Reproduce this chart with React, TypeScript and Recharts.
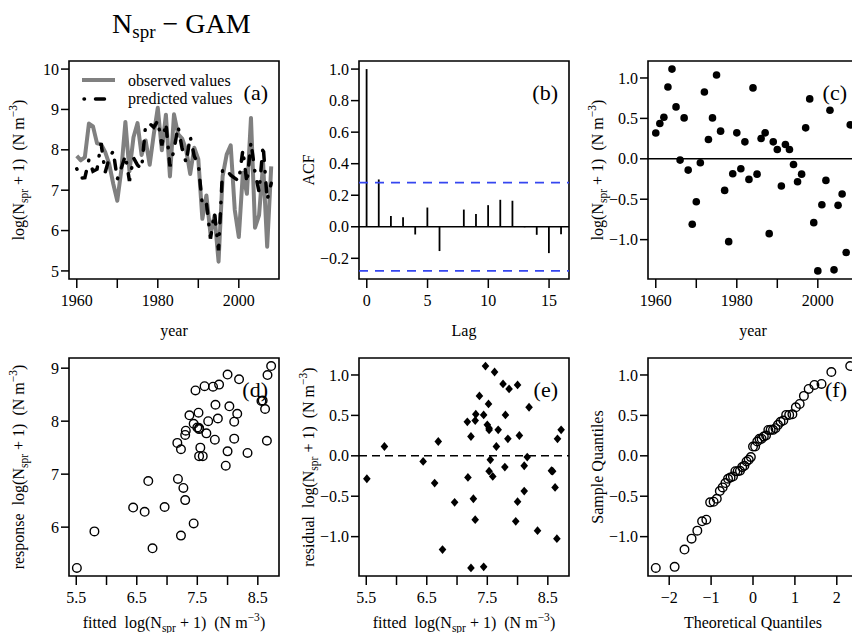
import React from 'react'
import { ComposedChart, Line, Scatter, Bar, XAxis, YAxis, ReferenceLine, ReferenceArea } from 'recharts'

// ─── Data ────────────────────────────────────────────────────────────

const years = [
    1960, 1961, 1962, 1963, 1964, 1965, 1966, 1967, 1968, 1969,
    1970, 1971, 1972, 1973, 1974, 1975, 1976, 1977, 1978, 1979,
    1980, 1981, 1982, 1983, 1984, 1985, 1986, 1987, 1988, 1989,
    1990, 1991, 1992, 1993, 1994, 1995, 1996, 1997, 1998, 1999,
    2000, 2001, 2002, 2003, 2004, 2005, 2006, 2007, 2008,
]

// log(N_spr + 1), observed
const observed = [
    7.85, 7.74, 7.82, 8.65, 8.58, 8.16, 8.14, 7.95, 7.65, 7.16,
    6.74, 7.50, 8.69, 7.47, 8.31, 8.66, 7.87, 8.23, 7.63, 8.38,
    9.04, 7.99, 8.87, 7.34, 8.88, 8.39, 8.28, 8.00, 7.40, 8.05,
    7.77, 6.29, 6.87, 5.92, 6.37, 5.23, 7.34, 7.88, 8.11, 6.51,
    5.84, 7.43, 6.91, 8.79, 6.07, 6.38, 7.67, 5.60, 7.59,
]

// GAM fitted / predicted
const predicted = [
    7.53, 7.30, 7.31, 7.76, 7.47, 7.52, 8.16, 7.44, 7.79, 7.97,
    7.27, 7.55, 7.86, 7.23, 7.80, 7.62, 7.53, 8.62, 8.65, 8.56,
    8.72, 8.11, 8.66, 7.59, 8.00, 8.58, 8.03, 7.68, 8.33, 7.84,
    7.65, 6.63, 6.69, 5.80, 6.44, 5.51, 7.53, 7.50, 7.37, 7.30,
    7.23, 8.00, 7.18, 8.19, 7.44, 6.96, 8.11, 6.76, 7.17,
]

const residuals = [
    0.32, 0.436, 0.514, 0.889, 1.11, 0.642, -0.016, 0.506, -0.14, -0.81,
    -0.531, -0.049, 0.827, 0.239, 0.506, 1.037, 0.342, -0.391, -1.025, -0.185,
    0.321, -0.123, 0.21, -0.255, 0.877, -0.19, 0.251, 0.321, -0.926, 0.21,
    0.115, -0.337, 0.177, 0.115, -0.07, -0.284, -0.19, 0.383, 0.741, -0.79,
    -1.387, -0.568, -0.267, 0.601, -1.374, -0.576, -0.436, -1.16, 0.42,
]

const acfLags = [0, 1, 2, 3, 4, 5, 6, 7, 8, 9, 10, 11, 12, 13, 14, 15, 16]
const acfValues = [1.0, 0.3, 0.068, 0.06, -0.049, 0.122, -0.154, 0.003, 0.109, 0.081, 0.137, 0.171, 0.165, -0.003, -0.051, -0.167, -0.047]
const acfLimit = 0.28

const theoQuantiles = [
    -2.32, -1.87, -1.635, -1.466, -1.329, -1.215, -1.114, -1.023, -0.94, -0.864,
    -0.792, -0.724, -0.658, -0.596, -0.536, -0.478, -0.421, -0.366, -0.311, -0.258,
    -0.205, -0.154, -0.102, -0.051, 0,
    0.051, 0.102, 0.154, 0.205, 0.258, 0.311, 0.366, 0.421, 0.478, 0.536,
    0.596, 0.658, 0.724, 0.792, 0.864, 0.94, 1.023, 1.114, 1.215, 1.329,
    1.466, 1.635, 1.87, 2.32,
]
const sampleQuantiles = [
    -1.387, -1.374, -1.16, -1.025, -0.926, -0.81, -0.79, -0.576, -0.568, -0.531,
    -0.436, -0.391, -0.337, -0.284, -0.267, -0.255, -0.19, -0.19, -0.185, -0.14,
    -0.123, -0.07, -0.049, -0.016, 0.115, 0.115, 0.177, 0.21, 0.21, 0.239,
    0.251, 0.32, 0.321, 0.321, 0.342, 0.383, 0.42, 0.436, 0.506, 0.506,
    0.514, 0.601, 0.642, 0.741, 0.827, 0.877, 0.889, 1.037, 1.11,
]

// ─── Ticks ───────────────────────────────────────────────────────────

const yearTicks = [1960, 1970, 1980, 1990, 2000]
const yearLabels = ['1960', '', '1980', '', '2000']
const logTicks = [5, 6, 7, 8, 9, 10]
const logLabels = ['5', '6', '7', '8', '9', '10']
const lagTicks = [0, 5, 10, 15]
const lagLabels = ['0', '5', '10', '15']
const acfTicks = [-0.2, 0, 0.2, 0.4, 0.6, 0.8, 1.0]
const acfLabels = ['\u22120.2', '0.0', '0.2', '0.4', '0.6', '0.8', '1.0']
const residTicks = [-1, -0.5, 0, 0.5, 1]
const residLabels = ['\u22121.0', '\u22120.5', '0.0', '0.5', '1.0']
const fittedTicks = [5.5, 6, 6.5, 7, 7.5, 8, 8.5]
const fittedLabels = ['5.5', '', '6.5', '', '7.5', '', '8.5']
const responseTicks = [6, 7, 8, 9]
const responseLabels = ['6', '7', '8', '9']
const theoTicks = [-2, -1, 0, 1, 2]
const theoLabels = ['\u22122', '\u22121', '0', '1', '2']

// ─── Layout ──────────────────────────────────────────────────────────

const FONT = "'Liberation Serif', 'DejaVu Serif', serif"
const PLOT_W = 210
const PLOT_H = 218
const PAD_L = 60
const PAD_T = 10
const PAD_R = 10
const PAD_B = 40
const COLS = [69, 359, 648]
const ROWS = [61, 358]
const GREY = '#808080'
const BLUE = '#3546f0'

const yearDomain: [number, number] = [1958.08, 2009.92]
const logDomain: [number, number] = [4.8, 10.2]
const acfDomainX: [number, number] = [-0.64, 16.64]
const acfDomainY: [number, number] = [-0.3312, 1.0512]
const residDomain: [number, number] = [-1.487, 1.21]
const fittedDomain: [number, number] = [5.38, 8.85]
const responseDomain: [number, number] = [5.078, 9.192]
const theoDomain: [number, number] = [-2.506, 2.506]

const fmt = (ticks: number[], labels: string[]) => (v: number) => {
    const i = ticks.findIndex((t) => Math.abs(t - v) < 1e-9)
    return i >= 0 ? labels[i] : ''
}

const tickStyle = { fill: '#000', fontSize: 16, fontFamily: FONT }
const tickLineStyle = { stroke: '#000', strokeWidth: 1.5 }

function xAxis(domain: [number, number], ticks: number[], labels: string[], dataKey?: string) {
    return (
        <XAxis
            dataKey={dataKey}
            type="number"
            domain={domain}
            allowDataOverflow
            ticks={ticks}
            interval={0}
            tickFormatter={fmt(ticks, labels)}
            axisLine={false}
            tickLine={tickLineStyle}
            tickSize={9}
            tickMargin={6.5}
            tick={tickStyle}
            height={PAD_B}
        />
    )
}

function yAxis(domain: [number, number], ticks: number[], labels: string[], dataKey?: string) {
    return (
        <YAxis
            dataKey={dataKey}
            type="number"
            domain={domain}
            allowDataOverflow
            ticks={ticks}
            interval={0}
            tickFormatter={fmt(ticks, labels)}
            axisLine={false}
            tickLine={tickLineStyle}
            tickSize={8}
            tickMargin={2}
            tick={tickStyle}
            width={PAD_L}
        />
    )
}

function box(xd: [number, number], yd: [number, number]) {
    return <ReferenceArea x1={xd[0]} x2={xd[1]} y1={yd[0]} y2={yd[1]} fill="none" stroke="#000" strokeWidth={1.6} ifOverflow="visible" />
}

const panelStyle = (col: number, row: number): React.CSSProperties => ({
    position: 'absolute',
    left: COLS[col] - PAD_L,
    top: ROWS[row] - PAD_T,
})
const chartProps = {
    width: PAD_L + PLOT_W + PAD_R,
    height: PAD_T + PLOT_H + PAD_B,
    margin: { top: PAD_T, right: PAD_R, bottom: 0, left: 0 },
    style: { fontFamily: FONT },
}

// ─── Marks ───────────────────────────────────────────────────────────

const OpenCircle = (p: any) => <circle cx={p.cx} cy={p.cy} r={4.3} fill="none" stroke="#000" strokeWidth={1.4} />
const FilledCircle = (p: any) => <circle cx={p.cx} cy={p.cy} r={3.8} fill="#000" />
const Diamond = (p: any) => (
    <polygon points={`${p.cx},${p.cy - 4.4} ${p.cx + 3.8},${p.cy} ${p.cx},${p.cy + 4.4} ${p.cx - 3.8},${p.cy}`} fill="#000" />
)

// ─── Labels ──────────────────────────────────────────────────────────

function LogText({ prefix = '' }: { prefix?: string }) {
    return (
        <>
            {prefix}log(N
            <tspan dy={4} fontSize={11.5}>spr</tspan>
            <tspan dy={-4}>{' + 1)  (N m'}</tspan>
            <tspan dy={-7} fontSize={11.5}>{'\u22123'}</tspan>
            <tspan dy={7}>)</tspan>
        </>
    )
}

function YLabel({ x, y, children }: { x: number; y: number; children: React.ReactNode }) {
    return (
        <text transform={`translate(${x},${y}) rotate(-90)`} textAnchor="middle" fontSize={16} style={{ whiteSpace: 'pre' }}>
            {children}
        </text>
    )
}

function XLabel({ x, y, children }: { x: number; y: number; children: React.ReactNode }) {
    return (
        <text x={x} y={y} textAnchor="middle" fontSize={16} style={{ whiteSpace: 'pre' }}>
            {children}
        </text>
    )
}

function Overlay() {
    const cx = COLS.map((c) => c + PLOT_W / 2)
    const cy = ROWS.map((r) => r + PLOT_H / 2)
    const letter = (col: number, row: number, s: string) => (
        <text x={COLS[col] + PLOT_W - 11} y={ROWS[row] + 39} textAnchor="end" fontSize={22}>{s}</text>
    )
    return (
        <svg width={852} height={633} style={{ position: 'absolute', left: 0, top: 0, pointerEvents: 'none', fontFamily: FONT }}>
            <text x={112} y={33} fontSize={28}>
                N<tspan dy={5} fontSize={19}>spr</tspan><tspan dy={-5}>{' \u2212 GAM'}</tspan>
            </text>

            {/* legend (a) */}
            <line x1={82} x2={115} y1={80} y2={80} stroke={GREY} strokeWidth={4} />
            <text x={128} y={86} fontSize={16}>observed values</text>
            <line x1={84} x2={106} y1={99} y2={99} stroke="#000" strokeWidth={3.5} strokeLinecap="round" strokeDasharray="0.5 11 9 30" />
            <text x={128} y={104} fontSize={16}>predicted values</text>

            {letter(0, 0, '(a)')}
            {letter(1, 0, '(b)')}
            {letter(2, 0, '(c)')}
            {letter(0, 1, '(d)')}
            {letter(1, 1, '(e)')}
            {letter(2, 1, '(f)')}

            <YLabel x={COLS[0] - 45} y={cy[0]}><LogText /></YLabel>
            <YLabel x={COLS[1] - 45} y={cy[0]}>ACF</YLabel>
            <YLabel x={COLS[2] - 45} y={cy[0]}><LogText /></YLabel>
            <YLabel x={COLS[0] - 45} y={cy[1]}><LogText prefix="response  " /></YLabel>
            <YLabel x={COLS[1] - 45} y={cy[1]}><LogText prefix="residual  " /></YLabel>
            <YLabel x={COLS[2] - 45} y={cy[1]}>Sample Quantiles</YLabel>

            <XLabel x={cx[0]} y={336}>year</XLabel>
            <XLabel x={cx[1]} y={336}>Lag</XLabel>
            <XLabel x={cx[2]} y={336}>year</XLabel>
            <XLabel x={cx[0]} y={628}><LogText prefix="fitted  " /></XLabel>
            <XLabel x={cx[1]} y={628}><LogText prefix="fitted  " /></XLabel>
            <XLabel x={cx[2]} y={628}>Theoretical Quantiles</XLabel>
        </svg>
    )
}

// ─── App ─────────────────────────────────────────────────────────────

export default function App() {
    const series = years.map((year, i) => ({ year, observed: observed[i], predicted: predicted[i] }))
    const acfData = acfLags.map((lag, i) => ({ lag, acf: acfValues[i] }))
    const residByYear = years.map((year, i) => ({ x: year, y: residuals[i] }))
    const fitVsResponse = predicted.map((f, i) => ({ x: f, y: observed[i] }))
    const fitVsResid = predicted.map((f, i) => ({ x: f, y: residuals[i] }))
    const qq = theoQuantiles.map((q, i) => ({ x: q, y: sampleQuantiles[i] }))

    return (
        <div style={{ position: 'absolute', left: 0, top: 0, width: 852, height: 633, overflow: 'hidden', background: '#fff', fontFamily: FONT }}>
            <style>{`.recharts-wrapper text, .recharts-text { font-family: ${FONT}; }`}</style>

            {/* (a) observed vs predicted */}
            <div style={panelStyle(0, 0)}>
                <ComposedChart {...chartProps} data={series}>
                    {xAxis(yearDomain, yearTicks, yearLabels, 'year')}
                    {yAxis(logDomain, logTicks, logLabels)}
                    <Line dataKey="observed" stroke={GREY} strokeWidth={4} dot={false} isAnimationActive={false} strokeLinejoin="round" />
                    <Line dataKey="predicted" stroke="#000" strokeWidth={3.5} strokeLinecap="round" strokeDasharray="0.5 11 9 11" dot={false} isAnimationActive={false} />
                    {box(yearDomain, logDomain)}
                </ComposedChart>
            </div>

            {/* (b) ACF of residuals */}
            <div style={panelStyle(1, 0)}>
                <ComposedChart {...chartProps} data={acfData}>
                    {xAxis(acfDomainX, lagTicks, lagLabels, 'lag')}
                    {yAxis(acfDomainY, acfTicks, acfLabels)}
                    <ReferenceLine y={0} stroke="#000" strokeWidth={1.5} />
                    <ReferenceLine y={acfLimit} stroke={BLUE} strokeWidth={1.8} strokeDasharray="9 7" />
                    <ReferenceLine y={-acfLimit} stroke={BLUE} strokeWidth={1.8} strokeDasharray="9 7" />
                    <Bar dataKey="acf" fill="#000" barSize={1.8} isAnimationActive={false} />
                    {box(acfDomainX, acfDomainY)}
                </ComposedChart>
            </div>

            {/* (c) residuals by year */}
            <div style={panelStyle(2, 0)}>
                <ComposedChart {...chartProps}>
                    {xAxis(yearDomain, yearTicks, yearLabels, 'x')}
                    {yAxis(residDomain, residTicks, residLabels, 'y')}
                    <ReferenceLine y={0} stroke="#000" strokeWidth={1.5} />
                    <Scatter data={residByYear} shape={FilledCircle} isAnimationActive={false} />
                    {box(yearDomain, residDomain)}
                </ComposedChart>
            </div>

            {/* (d) response vs fitted */}
            <div style={panelStyle(0, 1)}>
                <ComposedChart {...chartProps}>
                    {xAxis(fittedDomain, fittedTicks, fittedLabels, 'x')}
                    {yAxis(responseDomain, responseTicks, responseLabels, 'y')}
                    <Scatter data={fitVsResponse} shape={OpenCircle} isAnimationActive={false} />
                    {box(fittedDomain, responseDomain)}
                </ComposedChart>
            </div>

            {/* (e) residual vs fitted */}
            <div style={panelStyle(1, 1)}>
                <ComposedChart {...chartProps}>
                    {xAxis(fittedDomain, fittedTicks, fittedLabels, 'x')}
                    {yAxis(residDomain, residTicks, residLabels, 'y')}
                    <ReferenceLine y={0} stroke="#000" strokeWidth={1.5} strokeDasharray="8 5" />
                    <Scatter data={fitVsResid} shape={Diamond} isAnimationActive={false} />
                    {box(fittedDomain, residDomain)}
                </ComposedChart>
            </div>

            {/* (f) normal QQ */}
            <div style={panelStyle(2, 1)}>
                <ComposedChart {...chartProps}>
                    {xAxis(theoDomain, theoTicks, theoLabels, 'x')}
                    {yAxis(residDomain, residTicks, residLabels, 'y')}
                    <Scatter data={qq} shape={OpenCircle} isAnimationActive={false} />
                    {box(theoDomain, residDomain)}
                </ComposedChart>
            </div>

            <Overlay />
        </div>
    )
}
